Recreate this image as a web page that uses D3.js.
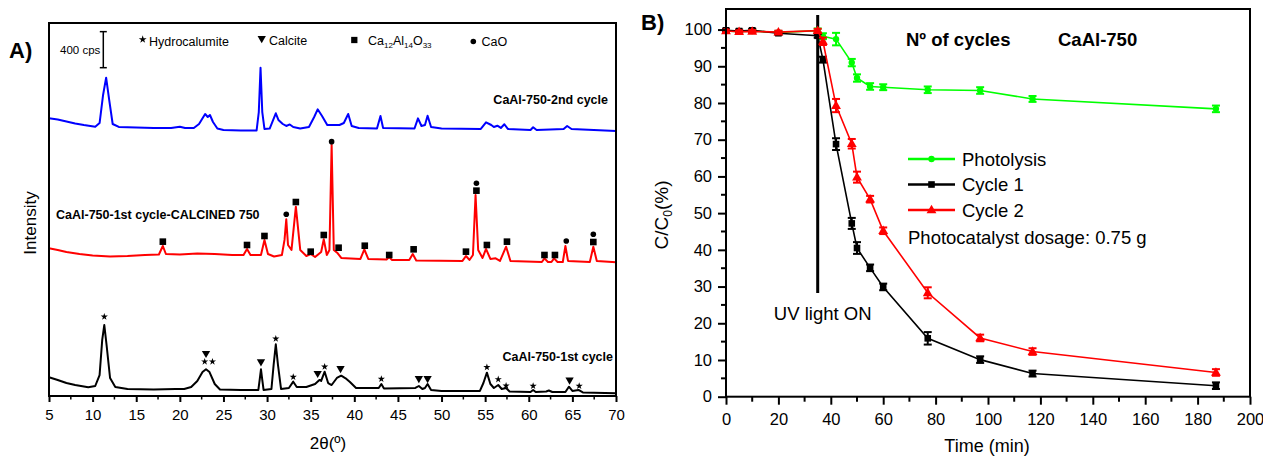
<!DOCTYPE html>
<html><head><meta charset="utf-8">
<script src="https://cdn.jsdelivr.net/npm/d3@7"></script>
<style>
body{margin:0;background:#fff}
svg{font-family:"Liberation Sans",Arial,Helvetica,sans-serif}
</style>
</head><body>
<svg id="c" width="1263" height="459"></svg>
<script>
// ---------- Panel A data: XRD patterns (2theta, intensity in cps, stacked) ----------
const xrd2ndCycle = [[5,3082],[6,3069],[7,3047],[8,3025],[9,3008],[10.3,2989],[10.8,3030],[11.2,3341],[11.55,3533],[11.9,3286],[12.3,3019],[13,2986],[15,2980],[17,2975],[19,2975],[20,2989],[20.6,2975],[21.6,2975],[22.2,3019],[22.9,3130],[23.2,3097],[23.45,3119],[23.8,3041],[24.3,2969],[25,2953],[27,2947],[28.8,2947],[29.05,3152],[29.25,3644],[29.45,3152],[29.7,2964],[30.3,2969],[30.7,3064],[31.0,3138],[31.3,3064],[31.8,3019],[32.2,2997],[32.6,3014],[33.0,2986],[33.8,2969],[34.8,2986],[35.4,3097],[35.8,3182],[36.3,3108],[36.9,3008],[38.3,3008],[38.8,3030],[39.3,3130],[39.7,2997],[40.5,2975],[42.6,2969],[43.0,3108],[43.3,2975],[46.9,2969],[47.3,3082],[47.7,2997],[48.1,3008],[48.4,3111],[48.8,2986],[50,2969],[54.5,2964],[55.1,3038],[55.7,3008],[56.0,2986],[56.4,3000],[56.8,2975],[57.2,3016],[57.6,2964],[60.2,2953],[60.5,2983],[60.9,2953],[64.0,2964],[64.4,2997],[64.9,2964],[70,2942]];
const xrdCalcined = [[5,1639],[6,1621],[7,1598],[8.5,1576],[10,1560],[12,1548],[14,1554],[16,1565],[17.6,1571],[18.05,1665],[18.4,1576],[20,1571],[22,1582],[24,1576],[26,1565],[27.3,1565],[27.7,1632],[28.1,1565],[29.3,1565],[29.7,1732],[30.1,1576],[30.8,1548],[31.7,1565],[32.0,1732],[32.2,1961],[32.4,1676],[32.8,1621],[33.3,2101],[33.8,1621],[34.5,1554],[35.0,1576],[35.5,1543],[36.2,1598],[36.5,1739],[36.85,1565],[37.15,1621],[37.4,2786],[37.65,1621],[38.1,1584],[38.5,1532],[40.7,1521],[41.15,1628],[41.6,1521],[43.7,1515],[44.0,1543],[44.3,1510],[46.3,1510],[46.7,1576],[47.1,1504],[52.4,1499],[52.8,1554],[53.2,1510],[53.6,1565],[53.9,2231],[54.2,1621],[54.7,1532],[55.1,1632],[55.6,1521],[56.2,1528],[56.7,1499],[57.4,1657],[57.9,1499],[61.5,1487],[61.8,1528],[62.2,1487],[62.6,1487],[62.9,1528],[63.3,1487],[63.9,1487],[64.2,1665],[64.5,1499],[67.0,1487],[67.4,1657],[67.8,1499],[70,1484]];
const xrd1stCycle = [[5,208],[6,178],[7,144],[8,122],[9.5,97],[10.3,111],[10.8,233],[11.1,622],[11.34,788],[11.6,566],[12.0,200],[12.6,100],[14,78],[17,72],[19.5,78],[20.5,78],[21.3,100],[22.0,167],[22.6,266],[23.0,296],[23.4,266],[24.0,133],[24.6,72],[27,67],[29.0,67],[29.15,178],[29.3,296],[29.45,178],[29.6,67],[30.5,78],[30.75,344],[31.0,574],[31.25,344],[31.6,78],[32.5,89],[33.0,159],[33.4,100],[34.5,100],[35.5,133],[36.0,178],[36.2,167],[36.6,270],[37.0,144],[37.4,122],[38.0,200],[38.5,225],[39.0,196],[39.5,155],[40.2,89],[42.8,89],[43.1,133],[43.4,83],[47.0,89],[47.4,111],[47.8,78],[48.1,89],[48.4,133],[48.8,67],[50,56],[54.4,56],[54.8,144],[55.2,259],[55.6,133],[56.0,89],[56.5,122],[56.9,78],[57.4,89],[57.8,50],[60.2,44],[60.5,67],[60.8,44],[62.0,50],[62.3,61],[62.7,44],[64.2,44],[64.6,103],[65.0,56],[65.7,67],[66.2,39],[70,30]];

// phase markers: [2theta, intensity, type]  H=hydrocalumite, C=calcite, M=Ca12Al14O33, O=CaO
const phaseMarks1st = [[11.34,880,"H"],[23.0,474,"C"],[22.85,381,"H"],[23.74,381,"H"],[29.3,381,"C"],[31.0,636,"H"],[33.0,211,"H"],[35.8,252,"C"],[36.6,325,"H"],[38.42,307,"C"],[43.1,189,"H"],[47.4,196,"C"],[48.4,196,"C"],[55.2,319,"H"],[56.5,185,"H"],[57.4,114,"H"],[60.5,111,"H"],[64.68,178,"C"],[65.78,111,"H"]];
const phaseMarksCalc = [[18.05,1713,"M"],[27.7,1676,"M"],[29.7,1776,"M"],[32.2,2017,"O"],[33.3,2153,"M"],[35.0,1602,"M"],[36.5,1787,"M"],[37.4,2823,"O"],[38.2,1646,"M"],[41.2,1668,"M"],[44.0,1565,"M"],[46.8,1628,"M"],[52.8,1602,"M"],[54.0,2361,"O"],[54.0,2279,"M"],[55.2,1676,"M"],[57.5,1713,"M"],[61.8,1565,"M"],[63.0,1565,"M"],[64.3,1721,"O"],[67.4,1795,"O"],[67.4,1709,"M"]];
const xTicksA = [5,10,15,20,25,30,35,40,45,50,55,60,65,70];
const scaleBarCps = 400, scaleBarTop = 4044;

// ---------- Panel B data ----------
const timeMin = [0,5,10,20,35,37,42,48,50,55,60,77,97,117,187];
const photolysis = [99.6,99.4,99.6,99.2,99.7,98.2,97.4,91.0,86.8,84.5,84.3,83.6,83.4,81.1,78.4];
const photolysisErr = [0.4,0.4,0.4,0.4,0.6,0.8,1.7,1.0,1.0,0.9,0.8,0.9,0.9,0.8,0.9];
const cycle1 = [99.8,99.6,99.8,99.0,98.3,91.8,68.8,47.2,40.5,35.1,29.9,15.9,10.1,6.3,3.0];
const cycle1Err = [0.4,0.4,0.4,0.4,0.5,0.8,1.6,1.5,1.6,0.9,0.9,1.7,0.9,0.8,0.9];
const cycle2 = [99.6,99.4,99.5,99.3,99.7,96.8,79.3,68.9,59.8,53.8,45.2,28.3,16.0,12.3,6.6];
const cycle2Err = [0.4,0.4,0.4,0.4,0.5,1.0,1.8,1.3,1.5,0.9,0.9,1.5,0.9,0.9,0.9];
const xTicksB = [0,20,40,60,80,100,120,140,160,180,200];
const yTicksB = [0,10,20,30,40,50,60,70,80,90,100];
const uvOnTime = 35;

const svg = d3.select("#c");
const FONT = '"Liberation Sans",Arial,Helvetica,sans-serif';

// ================= PANEL A =================
const A = {l:49, r:616, t:23, b:396};
const xA = d3.scaleLinear().domain([5,70]).range([A.l, A.r]);
const yA = d3.scaleLinear().domain([0,4140]).range([A.b, A.t]);
const gA = svg.append("g");

const lineA = d3.line().x(d=>xA(d[0])).y(d=>yA(d[1]));
[[xrd2ndCycle,"#0000ff"],[xrdCalcined,"#ff0000"],[xrd1stCycle,"#000000"]].forEach(([data,col])=>{
  gA.append("path").attr("d",lineA(data)).attr("fill","none").attr("stroke",col)
    .attr("stroke-width",2).attr("stroke-linejoin","round");
});

function drawMark(g, x, y, type, s){
  s = s || 1;
  if(type==="H"){
    g.append("path").attr("d",d3.symbol(d3.symbolStar, 16*s)()).attr("transform",`translate(${x},${y})`).attr("fill","#000");
  } else if(type==="C"){
    g.append("path").attr("d",d3.symbol(d3.symbolTriangle, 30*s)()).attr("transform",`translate(${x},${y}) rotate(180)`).attr("fill","#000");
  } else if(type==="M"){
    g.append("rect").attr("x",x-3.3*s).attr("y",y-3.3*s).attr("width",6.6*s).attr("height",6.6*s).attr("fill","#000");
  } else if(type==="O"){
    g.append("circle").attr("cx",x).attr("cy",y).attr("r",2.8*s).attr("fill","#000");
  }
}
phaseMarks1st.concat(phaseMarksCalc).forEach(m=>drawMark(gA, xA(m[0]), yA(m[1]), m[2]));

// frame
gA.append("rect").attr("x",A.l).attr("y",A.t).attr("width",A.r-A.l).attr("height",A.b-A.t)
  .attr("fill","none").attr("stroke","#000").attr("stroke-width",2);
// x axis
const axA = d3.axisBottom(xA).tickValues(xTicksA).tickSize(6).tickPadding(7).tickFormat(d3.format("d"));
const gAx = gA.append("g").attr("transform",`translate(0,${A.b})`).call(axA);
gAx.select(".domain").remove();
gAx.selectAll("line").attr("stroke-width",2);
gAx.selectAll("text").attr("font-size",15).attr("font-family",FONT);
const minorA = d3.range(7.5,70,5);
gA.selectAll(".mA").data(minorA).join("line").attr("x1",d=>xA(d)).attr("x2",d=>xA(d))
  .attr("y1",A.b).attr("y2",A.b+3.5).attr("stroke","#000").attr("stroke-width",1.5);

// axis titles
gA.append("text").attr("x",328).attr("y",449).attr("text-anchor","middle").attr("font-size",17).text("2θ(º)");
gA.append("text").attr("transform","translate(36,223) rotate(-90)").attr("text-anchor","middle").attr("font-size",17).text("Intensity");
gA.append("text").attr("x",9).attr("y",58).attr("font-size",22).attr("font-weight","bold").text("A)");

// series labels
gA.append("text").attr("x",608).attr("y",104).attr("text-anchor","end").attr("font-size",12.5).attr("font-weight","bold").text("CaAl-750-2nd cycle");
gA.append("text").attr("x",56).attr("y",219).attr("font-size",12.5).attr("font-weight","bold").text("CaAl-750-1st cycle-CALCINED 750");
gA.append("text").attr("x",613).attr("y",361).attr("text-anchor","end").attr("font-size",12.5).attr("font-weight","bold").text("CaAl-750-1st cycle");

// scale bar
const sbx = 103.3;
const sbTop = yA(scaleBarTop), sbBot = yA(scaleBarTop - scaleBarCps);
gA.append("line").attr("x1",sbx).attr("x2",sbx).attr("y1",sbTop).attr("y2",sbBot).attr("stroke","#000").attr("stroke-width",1.5);
[sbTop,sbBot].forEach(y=>gA.append("line").attr("x1",sbx-3.5).attr("x2",sbx+3.5).attr("y1",y).attr("y2",y).attr("stroke","#000").attr("stroke-width",1.5));
gA.append("text").attr("x",60).attr("y",54).attr("font-size",11.5).text(scaleBarCps+" cps");

// phase legend
drawMark(gA,142.7,39.5,"H",1.2);
gA.append("text").attr("x",149).attr("y",45.5).attr("font-size",12.5).text("Hydrocalumite");
drawMark(gA,261.7,38.5,"C",1.0);
gA.append("text").attr("x",269).attr("y",45).attr("font-size",12.5).text("Calcite");
drawMark(gA,354.3,40,"M",0.95);
const tM = gA.append("text").attr("x",368).attr("y",45).attr("font-size",12.5);
tM.append("tspan").text("Ca");
tM.append("tspan").attr("font-size",8).attr("dy",3).text("12");
tM.append("tspan").attr("dy",-3).text("Al");
tM.append("tspan").attr("font-size",8).attr("dy",3).text("14");
tM.append("tspan").attr("dy",-3).text("O");
tM.append("tspan").attr("font-size",8).attr("dy",3).text("33");
drawMark(gA,473.3,41.5,"O",1.0);
gA.append("text").attr("x",481.5).attr("y",45.5).attr("font-size",12.5).text("CaO");

// ================= PANEL B =================
const B = {l:726, r:1250, t:9, b:396.7};
const xB = d3.scaleLinear().domain([0,200]).range([B.l, B.r]);
const yB = d3.scaleLinear().domain([0,105.6]).range([B.b, B.t]);
const gB = svg.append("g");

// UV line
gB.append("line").attr("x1",xB(uvOnTime)).attr("x2",xB(uvOnTime)).attr("y1",15).attr("y2",293)
  .attr("stroke","#000").attr("stroke-width",3);
gB.append("text").attr("x",xB(uvOnTime)+5).attr("y",320).attr("text-anchor","middle").attr("font-size",18.5).text("UV light ON");

const lineB = d3.line().x(d=>xB(d[0])).y(d=>yB(d[1]));
const seriesB = [
  {v:photolysis, e:photolysisErr, col:"#00ff00", m:"circle"},
  {v:cycle1, e:cycle1Err, col:"#000000", m:"square"},
  {v:cycle2, e:cycle2Err, col:"#ff0000", m:"triangle"}
];
function markerB(g, x, y, m, col){
  if(m==="circle") g.append("circle").attr("cx",x).attr("cy",y).attr("r",3.2).attr("fill",col);
  else if(m==="square") g.append("rect").attr("x",x-3.3).attr("y",y-3.3).attr("width",6.6).attr("height",6.6).attr("fill",col);
  else g.append("path").attr("d",d3.symbol(d3.symbolTriangle,42)()).attr("transform",`translate(${x},${y+0.5})`).attr("fill",col);
}
seriesB.forEach(s=>{
  const pts = timeMin.map((t,i)=>[t,s.v[i]]);
  gB.append("path").attr("d",lineB(pts)).attr("fill","none").attr("stroke",s.col).attr("stroke-width",1.6);
  pts.forEach((p,i)=>{
    const x = xB(p[0]), y1 = yB(p[1]+s.e[i]), y2 = yB(p[1]-s.e[i]);
    gB.append("line").attr("x1",x).attr("x2",x).attr("y1",y1).attr("y2",y2).attr("stroke",s.col).attr("stroke-width",2);
    [y1,y2].forEach(y=>gB.append("line").attr("x1",x-4).attr("x2",x+4).attr("y1",y).attr("y2",y).attr("stroke",s.col).attr("stroke-width",2));
    markerB(gB, x, yB(p[1]), s.m, s.col);
  });
});

// frame
gB.append("rect").attr("x",B.l).attr("y",B.t).attr("width",B.r-B.l).attr("height",B.b-B.t)
  .attr("fill","none").attr("stroke","#000").attr("stroke-width",2);
const axBx = d3.axisBottom(xB).tickValues(xTicksB).tickSize(8).tickPadding(9).tickFormat(d3.format("d"));
const gBx = gB.append("g").attr("transform",`translate(0,${B.b})`).call(axBx);
const axBy = d3.axisLeft(yB).tickValues(yTicksB).tickSize(8).tickPadding(6).tickFormat(d3.format("d"));
const gBy = gB.append("g").attr("transform",`translate(${B.l},0)`).call(axBy);
[gBx,gBy].forEach(g=>{
  g.select(".domain").remove();
  g.selectAll("line").attr("stroke-width",2);
  g.selectAll("text").attr("font-size",16.5).attr("font-family",FONT);
});
gB.selectAll(".mBx").data(d3.range(10,200,20)).join("line").attr("x1",d=>xB(d)).attr("x2",d=>xB(d))
  .attr("y1",B.b).attr("y2",B.b+5).attr("stroke","#000").attr("stroke-width",2);
gB.selectAll(".mBy").data(d3.range(5,105,10)).join("line").attr("y1",d=>yB(d)).attr("y2",d=>yB(d))
  .attr("x1",B.l).attr("x2",B.l-5).attr("stroke","#000").attr("stroke-width",2);

// titles
gB.append("text").attr("x",987).attr("y",452).attr("text-anchor","middle").attr("font-size",18).text("Time (min)");
const yl = gB.append("text").attr("transform","translate(668,215) rotate(-90)").attr("text-anchor","middle").attr("font-size",19);
yl.append("tspan").text("C/C");
yl.append("tspan").attr("font-size",12).attr("dy",4).text("0");
yl.append("tspan").attr("dy",-4).text("(%)");
gB.append("text").attr("x",641).attr("y",30).attr("font-size",22).attr("font-weight","bold").text("B)");
gB.append("text").attr("x",906).attr("y",46).attr("font-size",18.5).attr("font-weight","bold").text("Nº of cycles");
gB.append("text").attr("x",1058).attr("y",46).attr("font-size",18.5).attr("font-weight","bold").text("CaAl-750");

// legend
const legItems = [["Photolysis","#00ff00","circle",159],["Cycle 1","#000000","square",184.5],["Cycle 2","#ff0000","triangle",210]];
legItems.forEach(([name,col,m,y])=>{
  gB.append("line").attr("x1",908).attr("x2",955).attr("y1",y).attr("y2",y).attr("stroke",col).attr("stroke-width",2.5);
  markerB(gB, 931.5, y, m, col);
  gB.append("text").attr("x",962).attr("y",y+6.5).attr("font-size",18.5).text(name);
});
gB.append("text").attr("x",908).attr("y",243.5).attr("font-size",18.5).text("Photocatalyst dosage: 0.75 g");
</script>
</body></html>
